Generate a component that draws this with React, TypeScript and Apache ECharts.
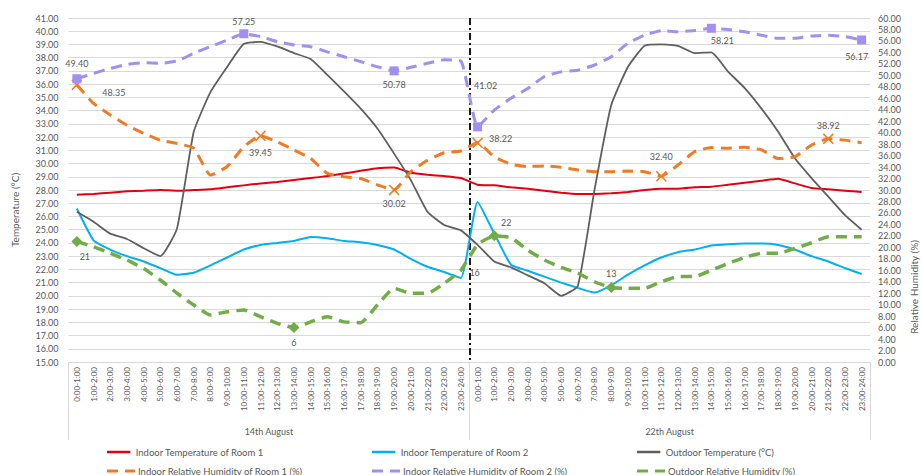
import { useEffect, useRef } from "react";
import * as echarts from "echarts";

const hourLabels = [
  "0:00-1:00", "1:00-2:00", "2:00-3:00", "3:00-4:00", "4:00-5:00", "5:00-6:00",
  "6:00-7:00", "7:00-8:00", "8:00-9:00", "9:00-10:00", "10:00-11:00", "11:00-12:00",
  "12:00-13:00", "13:00-14:00", "14:00-15:00", "15:00-16:00", "16:00-17:00", "17:00-18:00",
  "18:00-19:00", "19:00-20:00", "20:00-21:00", "21:00-22:00", "22:00-23:00", "23:00-24:00",
];
const dayLabels = ["14th August", "22th August"];
const categories = [...hourLabels, ...hourLabels];

const tempRoom1 = [
  27.65, 27.7, 27.8, 27.9, 27.95, 28.0, 27.95, 28.0, 28.05, 28.2, 28.35, 28.5,
  28.6, 28.75, 28.9, 29.05, 29.25, 29.45, 29.65, 29.7, 29.3, 29.15, 29.05, 28.9,
  28.4, 28.35, 28.2, 28.1, 27.95, 27.8, 27.7, 27.7, 27.75, 27.85, 28.0, 28.1,
  28.1, 28.2, 28.25, 28.4, 28.55, 28.7, 28.85, 28.5, 28.15, 28.05, 27.95, 27.85,
];
const tempRoom2 = [
  26.6, 24.2, 23.5, 23.0, 22.6, 22.1, 21.6, 21.75, 22.3, 22.9, 23.5, 23.85,
  24.0, 24.15, 24.45, 24.35, 24.15, 24.05, 23.85, 23.5, 22.8, 22.2, 21.8, 21.35,
  27.1, 24.7, 22.35, 21.9, 21.45, 21.0, 20.6, 20.25, 20.8, 21.6, 22.3, 22.9,
  23.3, 23.5, 23.8, 23.9, 23.95, 23.95, 23.85, 23.5, 23.0, 22.6, 22.1, 21.65,
];
const tempOutdoor = [
  26.35, 25.6, 24.7, 24.3, 23.6, 23.0, 25.1, 32.4, 35.4, 37.3, 39.05, 39.2,
  38.85, 38.35, 37.9, 36.7, 35.45, 34.15, 32.65, 30.75, 28.75, 26.35, 25.35, 24.95,
  23.85, 22.6, 22.15, 21.55, 20.95, 20.0, 20.75, 28.0, 34.4, 37.3, 38.9, 39.0,
  38.9, 38.35, 38.4, 36.95, 35.7, 34.15, 32.4, 30.4, 28.9, 27.5, 26.1, 25.0,
];
const rhRoom1 = [
  48.35, 45.1, 43.1, 41.3, 39.9, 38.7, 38.1, 37.3, 32.6, 34.1, 37.55, 39.45,
  38.4, 37.0, 35.5, 32.9, 32.3, 32.0, 30.9, 30.02, 33.2, 35.2, 36.5, 36.8,
  38.22, 35.8, 34.5, 34.1, 34.2, 33.95, 33.5, 33.2, 33.2, 33.3, 33.2, 32.4,
  34.35, 36.7, 37.4, 37.3, 37.45, 37.0, 35.5, 35.8, 37.85, 38.92, 38.7, 38.25,
];
const rhRoom2 = [
  49.4, 50.35, 51.2, 51.9, 52.2, 52.1, 52.5, 53.84, 55.0, 56.16, 57.25, 56.75,
  55.87, 55.3, 55.0, 54.1, 53.25, 52.4, 51.5, 50.78, 51.4, 52.1, 52.7, 52.5,
  41.02, 43.95, 46.0, 47.7, 49.8, 50.6, 50.9, 51.8, 53.25, 55.6, 57.0, 57.8,
  57.6, 57.8, 58.21, 58.0, 57.6, 57.0, 56.45, 56.45, 56.86, 57.0, 56.75, 56.17,
];
const rhOutdoor = [
  21, 20.1, 18.96, 17.8, 16.3, 14.3, 12.0, 9.94, 8.2, 8.77, 9.07, 7.9,
  6.75, 6, 7.0, 7.9, 7.0, 6.86, 9.94, 12.85, 12.0, 12.0, 13.7, 16,
  20.5, 22, 21.7, 19.5, 17.8, 16.5, 15.5, 14.0, 13, 12.85, 12.85, 14.0,
  14.9, 14.9, 16.0, 17.2, 18.25, 18.96, 18.96, 19.8, 20.8, 21.85, 21.85, 21.85,
];

// indices of points that carry a marker and a data label
const rhRoom1Labelled = [0, 11, 19, 24, 35, 45];
const rhRoom2Labelled = [0, 10, 19, 24, 38, 47];
const rhOutdoorLabelled = [0, 13, 23, 25, 32];

const seriesNames = [
  "Indoor Temperature of Room 1",
  "Indoor Temperature of Room 2",
  "Outdoor Temperature (°C)",
  "Indoor Relative Humidity of Room 1 (%)",
  "Indoor Relative Humidity of Room 2 (%)",
  "Outdoor Relative Humidity (%)",
];

const FONT = "Lato, 'Open Sans', sans-serif";
const TXT = "#595959";
const X_PATH =
  "path://M1,0 L5,4 L9,0 L10,1 L6,5 L10,9 L9,10 L5,6 L1,10 L0,9 L4,5 L0,1 Z";
const SOLID_ICON = "path://M0,0 H28 V3 H0 Z";
const DASH_ICON = "path://M0,0 H11 V3 H0 Z M18,0 H28 V3 H18 Z";

type LabelPlace = { position: string; distance?: number; offset?: number[] };

function marked(
  values: number[],
  labelled: number[],
  symbol: string,
  size: number,
  places: LabelPlace[],
  fmt: (v: number) => string,
  hideSymbol: number[] = []
) {
  return values.map((v, i) => {
    const k = labelled.indexOf(i);
    if (k < 0) return v;
    const p = places[k];
    return {
      value: v,
      symbol,
      symbolSize: hideSymbol.includes(i) ? 1 : size,
      label: {
        show: true,
        position: p.position,
        distance: p.distance ?? 5,
        offset: p.offset ?? [0, 0],
        formatter: () => fmt(v),
        color: TXT,
        fontSize: 9,
        fontFamily: FONT,
      },
    };
  });
}

export default function App() {
  const ref = useRef<HTMLDivElement>(null);

  useEffect(() => {
    document.body.style.margin = "0";
    if (!ref.current) return;
    const chart = echarts.init(ref.current, null, { renderer: "svg" });

    const legendCols = [107, 372, 637];
    const legendRows = [446, 465];
    const legends = seriesNames.map((name, i) => ({
      data: [{ name, icon: i < 3 ? SOLID_ICON : DASH_ICON }],
      left: legendCols[i % 3],
      top: legendRows[Math.floor(i / 3)],
      orient: "horizontal",
      padding: 0,
      itemWidth: 28,
      itemHeight: i < 3 ? 2.5 : 3,
      textStyle: {
        fontSize: 9.5,
        color: TXT,
        fontFamily: FONT,
        padding: [0, 0, 0, -2],
        lineHeight: 12,
      },
    }));

    const dashed = (color: string) => ({
      color,
      width: 3,
      type: [11, 7],
      cap: "butt",
    });

    chart.setOption({
      animation: false,
      backgroundColor: "#ffffff",
      textStyle: { fontFamily: FONT },
      grid: { left: 68.5, right: 52, top: 18, bottom: 113, containLabel: false },
      legend: legends,
      xAxis: [
        {
          type: "category",
          data: categories,
          boundaryGap: true,
          axisLine: { show: true, lineStyle: { color: "#d9d9d9" } },
          axisTick: { show: false },
          axisLabel: {
            interval: 0,
            rotate: 90,
            fontSize: 8,
            color: TXT,
            margin: 5,
            fontFamily: FONT,
          },
          splitLine: { show: false },
        },
        {
          type: "category",
          data: dayLabels,
          position: "bottom",
          boundaryGap: true,
          axisLine: { show: false },
          axisTick: { show: true, length: 78, lineStyle: { color: "#d9d9d9" } },
          axisLabel: { interval: 0, fontSize: 9, color: TXT, margin: 65, fontFamily: FONT },
          splitLine: {
            show: true,
            showMinLine: false,
            showMaxLine: false,
            lineStyle: { color: "#1a1a1a", width: 2, type: [7, 3, 2, 3] },
          },
        },
      ],
      yAxis: [
        {
          type: "value",
          min: 15,
          max: 41,
          interval: 1,
          position: "left",
          axisLine: { show: false },
          axisTick: { show: false },
          axisLabel: {
            formatter: (v: number) => v.toFixed(2),
            fontSize: 9,
            color: TXT,
            margin: 10,
            fontFamily: FONT,
          },
          splitLine: { show: true, lineStyle: { color: "#d9d9d9", width: 1 } },
        },
        {
          type: "value",
          min: 0,
          max: 60,
          interval: 2,
          position: "right",
          axisLine: { show: false },
          axisTick: { show: false },
          axisLabel: {
            formatter: (v: number) => v.toFixed(2),
            fontSize: 9,
            color: TXT,
            margin: 8,
            fontFamily: FONT,
          },
          splitLine: { show: false },
        },
      ],
      graphic: [
        {
          type: "text",
          x: 15,
          y: 210,
          rotation: Math.PI / 2,
          style: {
            text: "Temperature (°C)",
            fontSize: 10,
            fill: TXT,
            fontFamily: FONT,
            align: "center",
            verticalAlign: "middle",
          },
        },
        {
          type: "text",
          x: 914,
          y: 287,
          rotation: Math.PI / 2,
          style: {
            text: "Relative Humidity (%)",
            fontSize: 10,
            fill: TXT,
            fontFamily: FONT,
            align: "center",
            verticalAlign: "middle",
          },
        },
      ],
      series: [
        {
          name: seriesNames[0],
          type: "line",
          yAxisIndex: 0,
          data: tempRoom1,
          symbol: "none",
          smooth: 0.15,
          color: "#e3000f",
          lineStyle: { color: "#e3000f", width: 2 },
        },
        {
          name: seriesNames[1],
          type: "line",
          yAxisIndex: 0,
          data: tempRoom2,
          symbol: "none",
          smooth: 0.15,
          color: "#00b0f0",
          lineStyle: { color: "#00b0f0", width: 2 },
        },
        {
          name: seriesNames[2],
          type: "line",
          yAxisIndex: 0,
          data: tempOutdoor,
          symbol: "none",
          smooth: 0.15,
          color: "#5f5f5f",
          lineStyle: { color: "#5f5f5f", width: 1.8 },
        },
        {
          name: seriesNames[3],
          type: "line",
          yAxisIndex: 1,
          symbol: "none",
          smooth: 0.15,
          color: "#f07b24",
          itemStyle: { color: "#f07b24" },
          lineStyle: dashed("#f07b24"),
          data: marked(
            rhRoom1,
            rhRoom1Labelled,
            X_PATH,
            11,
            [
              { position: "right", distance: 20, offset: [0, 8] },
              { position: "bottom", distance: 7 },
              { position: "bottom", distance: 4 },
              { position: "right", distance: 6, offset: [0, -4] },
              { position: "top", distance: 10 },
              { position: "top", distance: 3 },
            ],
            (v) => v.toFixed(2)
          ),
        },
        {
          name: seriesNames[4],
          type: "line",
          yAxisIndex: 1,
          symbol: "none",
          smooth: 0.15,
          color: "#a28ff2",
          itemStyle: { color: "#a28ff2" },
          lineStyle: dashed("#a28ff2"),
          data: marked(
            rhRoom2,
            rhRoom2Labelled,
            "rect",
            9,
            [
              { position: "top", distance: 6 },
              { position: "top", distance: 3 },
              { position: "bottom", distance: 5 },
              { position: "top", distance: 5, offset: [8, -27] },
              { position: "bottom", distance: 3, offset: [11, 0] },
              { position: "bottom", distance: 8, offset: [-5, 0] },
            ],
            (v) => v.toFixed(2)
          ),
        },
        {
          name: seriesNames[5],
          type: "line",
          yAxisIndex: 1,
          symbol: "none",
          smooth: 0.15,
          color: "#70ad47",
          itemStyle: { color: "#70ad47" },
          lineStyle: { ...dashed("#70ad47"), width: 3.5 },
          data: marked(
            rhOutdoor,
            rhOutdoorLabelled,
            "diamond",
            11,
            [
              { position: "bottom", distance: 5, offset: [8, 0] },
              { position: "bottom", distance: 5 },
              { position: "right", distance: 8, offset: [0, 2] },
              { position: "top", distance: 3, offset: [12, 0] },
              { position: "top", distance: 4 },
            ],
            (v) => String(Math.round(v)),
            [23]
          ),
        },
      ],
    });

    return () => chart.dispose();
  }, []);

  return <div ref={ref} style={{ width: 922, height: 475 }} />;
}
